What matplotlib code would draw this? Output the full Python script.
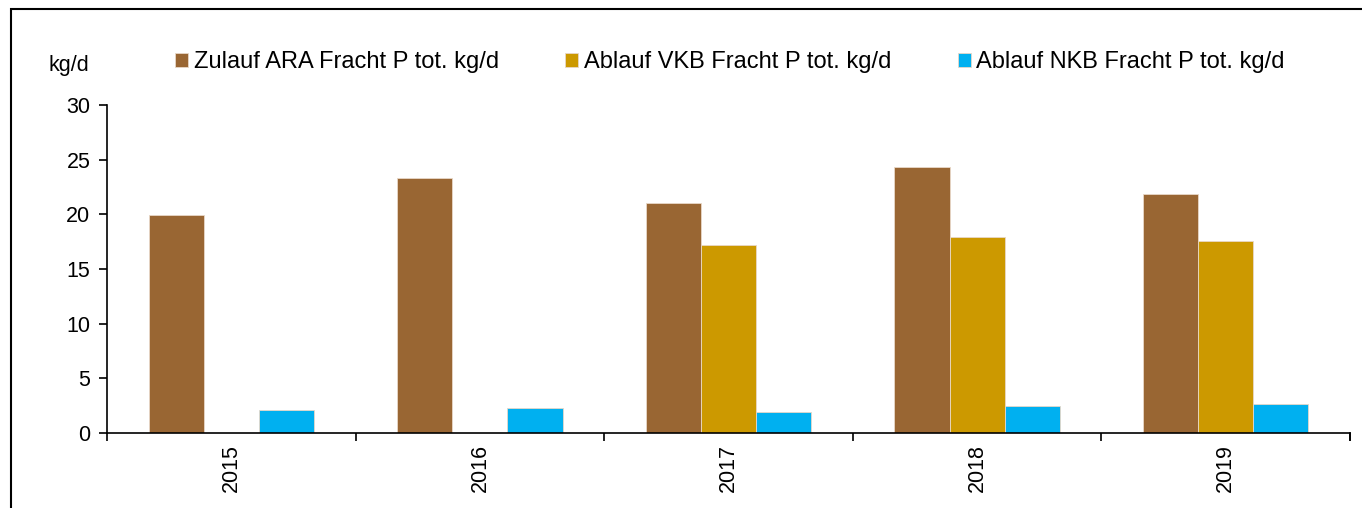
import matplotlib.pyplot as plt
import numpy as np
from matplotlib.patches import Rectangle

plt.rcParams['font.family'] = ['Liberation Sans', 'DejaVu Sans']

years = ["2015", "2016", "2017", "2018", "2019"]
zulauf = [19.9, 23.3, 21.0, 24.3, 21.9]
vkb = [0, 0, 17.2, 17.9, 17.6]
nkb = [2.1, 2.3, 1.9, 2.5, 2.65]
labels = ["Zulauf ARA Fracht P tot. kg/d", "Ablauf VKB Fracht P tot. kg/d", "Ablauf NKB Fracht P tot. kg/d"]
colors = ["#996633", "#CC9900", "#00B0F0"]

fig = plt.figure(figsize=(13.62, 5.08), dpi=100)
W, H = 1362, 508
ax = fig.add_axes([107 / W, 1 - 433 / H, (1350 - 107) / W, (433 - 105) / H])

x = np.arange(len(years))
bw = 0.222
for i, (vals, c, lab) in enumerate(zip([zulauf, vkb, nkb], colors, labels)):
    ax.bar(x + (i - 1) * bw, vals, bw, color=c, label=lab, edgecolor="#e8d8c8", linewidth=0.6)

ax.set_xlim(-0.5, len(years) - 0.5)
ax.set_ylim(0, 30)
ax.set_yticks(range(0, 31, 5))
ax.set_xticks(np.arange(-0.5, len(years), 1.0))
ax.set_xticklabels([])
ax.set_xticks(x, minor=True)
ax.set_xticklabels(years, minor=True, rotation=90, fontsize=15.5)
ax.tick_params(axis="x", which="minor", length=0, pad=8)
ax.tick_params(axis="x", which="major", length=6, direction="out", width=1.2)
ax.tick_params(axis="y", length=6, width=1.2, labelsize=15.5, pad=6)
ax.spines["top"].set_visible(False)
ax.spines["right"].set_visible(False)
ax.spines["left"].set_linewidth(1.2)
ax.spines["bottom"].set_linewidth(1.2)
# small tick at the right end of the x axis
ax.plot([len(years) - 0.5, len(years) - 0.5], [0, -0.6], color="black", lw=1.2, clip_on=False)

fig.text(48 / W, 1 - 65 / H, "kg/d", fontsize=15.5, va="center", ha="left")

fig.legend(loc="center", bbox_to_anchor=(730 / W, 1 - 62 / H), ncol=3, frameon=False,
           fontsize=17, handlelength=0.55, handleheight=0.55, handletextpad=0.25, columnspacing=2.8)

fig.add_artist(Rectangle((11 / W, -0.1), 1.2, 1 - 9 / H + 0.1, transform=fig.transFigure,
                         fill=False, edgecolor="black", linewidth=1.5))

fig.savefig("out.png", dpi=100)
